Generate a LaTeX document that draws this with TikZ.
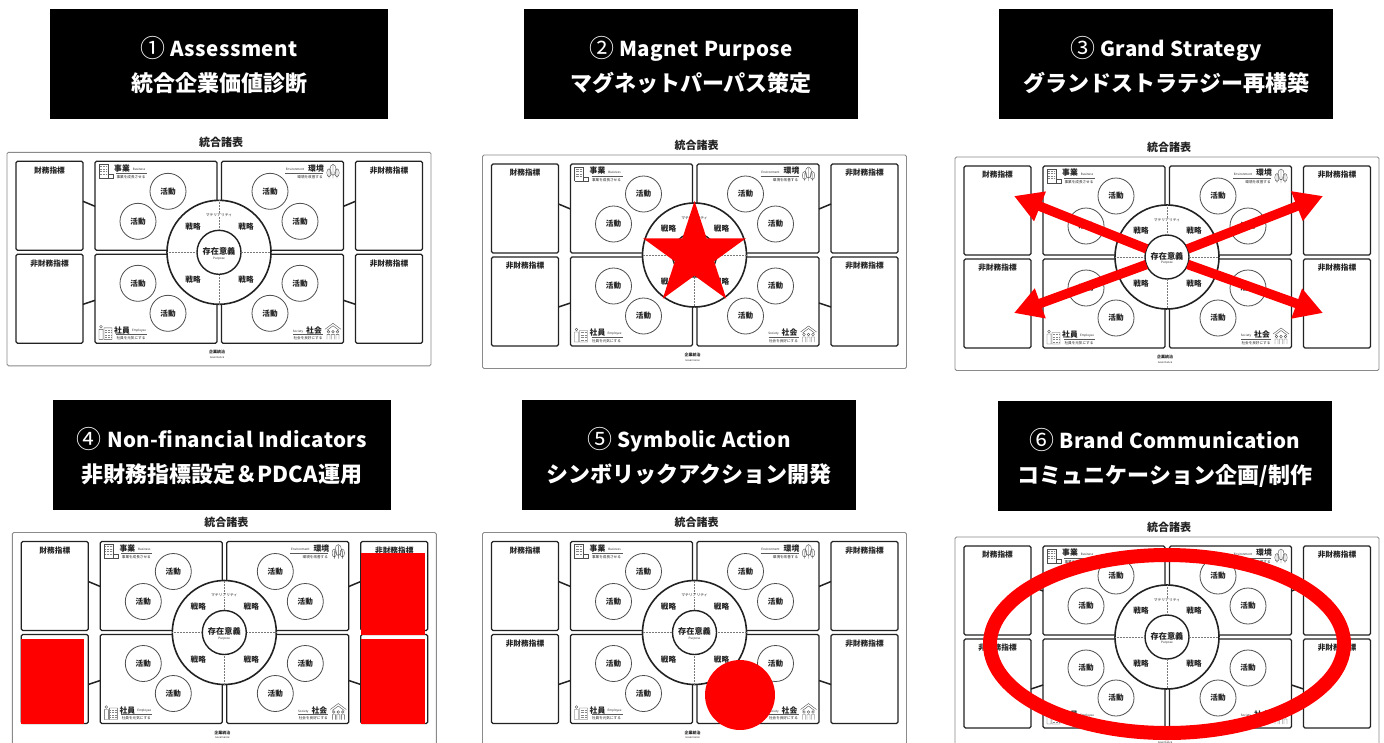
\documentclass[tikz,border=0pt]{standalone}
\usepackage{fontspec}
\setmainfont{Noto Sans CJK JP}
\usetikzlibrary{shapes.geometric,arrows.meta}
\definecolor{ink}{HTML}{222222}
\definecolor{frame}{HTML}{8A8A8A}
\definecolor{hotred}{HTML}{FF0000}
\newcommand{\fs}[1]{\fontsize{#1}{#1}\selectfont}
\newcommand{\hnum}[1]{{\mdseries\fs{25}\raisebox{-1.5pt}{#1}}}
\tikzset{
  header/.style={fill=black,draw=none,minimum height=110pt,inner sep=0pt,outer sep=0pt},
  headtext/.style={text=white,anchor=base,inner sep=0pt},
  outerbox/.style={draw=frame,line width=0.9pt,rounded corners=1.5pt,fill=white,inner sep=0pt,minimum width=424pt,minimum height=213.5pt},
  box/.style={draw=ink,line width=1.3pt,rounded corners=1.5pt,inner sep=0pt,outer sep=0pt,fill=white},
  indbox/.style={box,minimum width=67pt,minimum height=89pt},
  quadbox/.style={box,minimum width=122pt,minimum height=89pt},
  link/.style={draw=ink,line width=1.5pt},
  ring/.style={circle,draw=ink,line width=1.6pt,fill=white,inner sep=0pt,outer sep=0pt,minimum size=104pt},
  core/.style={circle,draw=ink,line width=1.4pt,fill=white,inner sep=0pt,outer sep=0pt,minimum size=44pt},
  act/.style={circle,draw=ink!80,line width=0.8pt,fill=white,inner sep=0pt,minimum size=36pt,font=\fs{7.6}\bfseries,text=ink},
  dot/.style={draw=ink!60,line width=0.5pt,densely dotted},
  lbl/.style={inner sep=0pt,text=ink},
  icon/.style={draw=ink!80,line width=0.4pt},
  rule/.style={draw=ink!75,line width=0.5pt},
  redfill/.style={fill=hotred,draw=none},
  redarrow/.style={draw=hotred,line width=9.5pt,-{Triangle[length=28pt,width=30pt]}},
}
\newcommand{\hdr}[7]{% name, cx, cy, width, number, latin, japanese
  \node[header,minimum width=#4pt] (#1) at (#2,#3) {};
  \path (#1.center) ++(0,-8) node[headtext] (#1a) {\bfseries\fs{20.5}\addfontfeature{LetterSpace=2.2}\hnum{#5} #6};
  \path (#1.center) ++(0,27) node[headtext] (#1b) {\bfseries\fs{22}#7};
}
\newcommand{\panel}[3]{%
\begin{scope}[shift={(#2,#3)},name prefix=#1-]
  \node[lbl,font=\fs{11}\bfseries] (title) at (2,-110) {統合諸表};
  \node[outerbox] (outer) at (0,6.75) {};
  \node[indbox] (fa) at (-169.5,-46.5) {};
  \node[indbox] (nb) at (-169.5,46.5) {};
  \node[indbox] (nc) at (170,-46.5) {};
  \node[indbox] (nd) at (170,46.5) {};
  \node[quadbox] (qa) at (-63,-46.5) {};
  \node[quadbox] (qb) at (63.5,-46.5) {};
  \node[quadbox] (qc) at (-63,46.5) {};
  \node[quadbox] (qd) at (63.5,46.5) {};
  \draw[link] ([yshift=4.5pt]fa.east) -- ([yshift=-0.5pt]qa.west);
  \draw[link] ([yshift=-5.5pt]nb.east) -- ([yshift=-1.5pt]qc.west);
  \draw[link] ([yshift=4.5pt]nc.west) -- ([yshift=-0.5pt]qb.east);
  \draw[link] ([yshift=-5.5pt]nd.west) -- ([yshift=-1.5pt]qd.east);
  \node[lbl,font=\fs{7.7}\bfseries] (la) at (-169.5,-82) {財務指標};
  \node[lbl,font=\fs{7.7}\bfseries] (lb) at (-169.5,11) {非財務指標};
  \node[lbl,font=\fs{7.7}\bfseries] (lc) at (170,-82) {非財務指標};
  \node[lbl,font=\fs{7.7}\bfseries] (ld) at (170,11) {非財務指標};
  \node[act] (a1) at (-51,-61) {活動};
  \node[act] (a2) at (-81,-31) {活動};
  \node[act] (a3) at (51,-61) {活動};
  \node[act] (a4) at (81,-31) {活動};
  \node[act] (a5) at (-81,31) {活動};
  \node[act] (a6) at (-51,61) {活動};
  \node[act] (a7) at (81,31) {活動};
  \node[act] (a8) at (51,61) {活動};
  \node[ring] (ring) at (0,0) {};
  \node[core] (core) at (0,0) {};
  \draw[dot] (ring.north) -- (core.north);
  \draw[dot] (ring.south) -- (core.south);
  \draw[dot] (ring.west) -- (core.west);
  \draw[dot] (ring.east) -- (core.east);
  \node[lbl,font=\fs{8.2}\bfseries] (pu) at (0,-1) {存在意義};
  \node[lbl,font=\fs{3}] (pe) at (0,6) {Purpose};
  \node[lbl,fill=white,inner xsep=1pt,font=\fs{3.8}] (ma) at (0,-37) {マテリアリティ};
  \node[lbl,font=\fs{7.6}\bfseries] (s1) at (-26,-26) {戦略};
  \node[lbl,font=\fs{7.6}\bfseries] (s2) at (27,-26) {戦略};
  \node[lbl,font=\fs{7.6}\bfseries] (s3) at (-26,27) {戦略};
  \node[lbl,font=\fs{7.6}\bfseries] (s4) at (27,27) {戦略};
  \node[lbl,font=\fs{4}\bfseries] (go) at (-2,100) {企業統治};
  \node[lbl,font=\fs{2.6}] (gv) at (-2,105.5) {Governance};
  % business
  \node[lbl,font=\fs{7.8}\bfseries] (t1) at (-97,-84) {事業};
  \node[lbl,font=\fs{3}] (e1) at (-80,-83) {Business};
  \draw[rule] (-103,-79) -- (-72,-79);
  \node[lbl,font=\fs{3.6}] (u1) at (-88,-75) {事業を成長させる};
  \draw[icon] (-120,-74) -- (-120,-88) -- (-111,-88) -- (-111,-74) (-120,-74) -- (-106,-74) -- (-106,-78) -- (-111,-78);
  \foreach \yy in {-86,-83.5,-81,-78.5}{\draw[icon,draw=ink!55,densely dotted] (-119,\yy) -- (-112,\yy);}
  % environment
  \node[lbl,font=\fs{7.8}\bfseries] (t2) at (97,-84) {環境};
  \node[lbl,font=\fs{3}] (e2) at (76,-83) {Environment};
  \draw[rule] (66,-79) -- (104,-79);
  \node[lbl,font=\fs{3.6}] (u2) at (91,-75) {環境を改善する};
  \draw[icon] (114,-82.5) ellipse (3.2pt and 5.5pt) (114,-87) -- (114,-74);
  \draw[icon] (110,-79.5) ellipse (2.2pt and 4pt) (110,-82) -- (110,-74);
  \draw[icon] (118,-79.5) ellipse (2.2pt and 4pt) (118,-82) -- (118,-74);
  % employee
  \node[lbl,font=\fs{7.8}\bfseries] (t3) at (-97,78) {社員};
  \node[lbl,font=\fs{3}] (e3) at (-80,78.5) {Employee};
  \draw[rule] (-103,82) -- (-72,82);
  \node[lbl,font=\fs{3.6}] (u3) at (-88,86) {社員を元気にする};
  \draw[icon] (-118,74.5) circle (1.4pt) (-120,87) -- (-120,77) -- (-116,77) -- (-116,87) -- cycle (-115,87) -- (-115,75.5) -- (-107,75.5) -- (-107,87) -- cycle;
  \foreach \yy in {77.5,80,82.5,85}{\draw[icon,draw=ink!55,densely dotted] (-114,\yy) -- (-108,\yy);}
  % society
  \node[lbl,font=\fs{7.8}\bfseries] (t4) at (95,78) {社会};
  \node[lbl,font=\fs{3}] (e4) at (79,79) {Society};
  \draw[rule] (74,82) -- (104,82);
  \node[lbl,font=\fs{3.6}] (u4) at (89,86) {社会を良好にする};
  \draw[icon] (106,77) -- (114,71) -- (122,77) (108,78) -- (114,73.5) -- (120,78);
  \foreach \xx in {109.5,114,118.5}{\draw[icon] (\xx,79.5) circle (1.3pt) (\xx-1.5,87) -- (\xx-1.5,82) -- (\xx+1.5,82) -- (\xx+1.5,87);}
\end{scope}}
\begin{document}
\begin{tikzpicture}[x=1pt,y=-1pt]
\clip (0,0) rectangle (1384,742);
\fill[white] (0,0) rectangle (1384,742);
\hdr{h1}{219}{64}{338}{①}{Assessment}{統合企業価値診断}
\hdr{h2}{691}{64}{334}{②}{Magnet Purpose}{マグネットパーパス策定}
\hdr{h3}{1166}{64}{334}{③}{Grand Strategy}{グランドストラテジー再構築}
\hdr{h4}{222}{455}{338}{④}{Non-financial Indicators}{非財務指標設定＆PDCA運用}
\hdr{h5}{689}{455}{334}{⑤}{Symbolic Action}{シンボリックアクション開発}
\hdr{h6}{1165}{456}{334}{⑥}{Brand Communication}{コミュニケーション企画/制作}
\panel{pa}{219}{252.3}
\panel{pb}{694.5}{255}
\panel{pc}{1167}{257}
\panel{pd}{224.3}{632.5}
\panel{pe}{694.5}{632.5}
\panel{pf}{1167}{637}
% 2 star
\node[star,star points=5,star point ratio=2.618,minimum size=108pt,inner sep=0pt,redfill] (mstar) at (pb-ring.center) {};
% 3 arrows
\coordinate (tul) at (1014,196);
\coordinate (tur) at (1323,196);
\coordinate (tll) at (1014,313);
\coordinate (tlr) at (1323,313);
\draw[redarrow] (pc-core) -- (tul);
\draw[redarrow] (pc-core) -- (tur);
\draw[redarrow] (pc-core) -- (tll);
\draw[redarrow] (pc-core) -- (tlr);
% 4 blocks
\fill[hotred] (361,553) rectangle (424.5,635);
\fill[hotred] (361,639.2) rectangle (424.5,723.5);
\fill[hotred] (21,639.2) rectangle (83.5,723.5);
% 5 dot
\node[circle,redfill,minimum size=70pt,inner sep=0pt] (mdot) at (740,695) {};
% 6 ellipse
\node[ellipse,draw=hotred,line width=14pt,minimum width=354pt,minimum height=178pt,inner sep=0pt] (mring) at (1167,644) {};
\end{tikzpicture}
\end{document}
